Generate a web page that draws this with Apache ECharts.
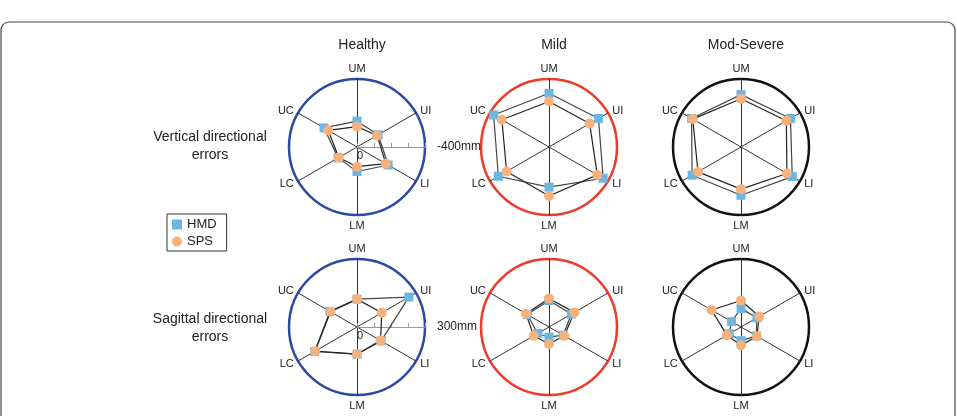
<!DOCTYPE html>
<html>
<head>
<meta charset="utf-8">
<script src="https://cdn.jsdelivr.net/npm/echarts@6/dist/echarts.min.js"></script>
<style>
  html, body { margin: 0; padding: 0; background: #fff; }
  #chartData { width: 957px; height: 416px; }
</style>
</head>
<body>
<div id="chartData"></div>
<script>
// axes go counterclockwise from the top in echarts radar
var categories = ["UM", "UC", "LC", "LM", "LI", "UI"];
var groups = ["Healthy", "Mild", "Mod-Severe"];
var rowLabels = ["Vertical directional\nerrors", "Sagittal directional\nerrors"];
var rowMax = [400, 300];
var scaleNames = ["-400mm", "300mm"];

// vertical errors (mm)
var vertHMD = [
  [152, 224, 128, 144, 212, 144],
  [316, 376, 344, 236, 368, 336],
  [308, 336, 332, 284, 348, 336]
];
var vertSPS = [
  [120, 196, 124, 116, 196, 136],
  [268, 320, 288, 288, 328, 276],
  [284, 328, 292, 248, 312, 308]
];
// sagittal errors (mm)
var sagHMD = [
  [123, 138, 216, 120, 123, 264],
  [117, 111, 57, 45, 72, 114],
  [81, 48, 60, 60, 78, 81]
];
var sagSPS = [
  [123, 135, 213, 120, 120, 126],
  [126, 117, 78, 75, 78, 129],
  [117, 150, 72, 81, 81, 93]
];

var ringColors = ["#2b4aa2", "#ee3b2a", "#111111"];
var hmdColor = "#6cb6e2";
var spsColor = "#f7b27b";
var font = "Liberation Sans";

var colX = [357, 549, 741];
var rowY = [147, 327];
var R = 68;

let myChart = echarts.init(document.getElementById("chartData"));

var radars = [], series = [], titles = [];
var rows = [[vertHMD, vertSPS], [sagHMD, sagSPS]];

rows.forEach(function (row, r) {
  groups.forEach(function (g, c) {
    radars.push({
      center: [colX[c], rowY[r]],
      radius: R,
      shape: "circle",
      startAngle: 90,
      splitNumber: 1,
      indicator: categories.map(function (n) { return { name: n, max: rowMax[r], min: 0 }; }),
      axisName: { color: "#222", fontSize: 11, fontFamily: font },
      nameGap: 5,
      splitArea: { show: false },
      splitLine: { lineStyle: { color: ringColors[c], width: 2.5 } },
      axisLine: { lineStyle: { color: "#333", width: 1 } }
    });
    series.push({
      type: "radar",
      radarIndex: radars.length - 1,
      z: 3,
      data: [
        {
          name: "HMD",
          value: row[0][c],
          symbol: "rect",
          symbolSize: 9,
          itemStyle: { color: hmdColor },
          lineStyle: { color: "#444", width: 1.2 }
        },
        {
          name: "SPS",
          value: row[1][c],
          symbol: "circle",
          symbolSize: 10,
          itemStyle: { color: spsColor },
          lineStyle: { color: "#222", width: 1.2 }
        }
      ]
    });
  });
});

// column headings and row labels
groups.forEach(function (g, c) {
  titles.push({
    text: g, left: colX[c], top: 33, textAlign: "center",
    textStyle: { fontSize: 14, fontWeight: "normal", color: "#222", fontFamily: font }
  });
});
rowLabels.forEach(function (t, r) {
  titles.push({
    text: t, left: 205, top: rowY[r] - 24 + r * 2, textAlign: "center",
    textStyle: { fontSize: 14, fontWeight: "normal", color: "#222", fontFamily: font, lineHeight: 18 }
  });
});

// scale bar on the healthy plots: a polar radius axis lying along 0 deg
var polar = [], angleAxis = [], radiusAxis = [];
rowY.forEach(function (y, r) {
  polar.push({ center: [colX[0], y], radius: R });
  angleAxis.push({ polarIndex: r, type: "value", startAngle: 0, show: false });
  radiusAxis.push({
    polarIndex: r,
    type: "value",
    min: 0,
    max: rowMax[r],
    interval: rowMax[r] / 4,
    z: 1,
    name: scaleNames[r],
    nameLocation: "end",
    nameGap: 12,
    nameTextStyle: { color: "#222", fontSize: 12, fontFamily: font, verticalAlign: "middle" },
    axisLine: { show: true, lineStyle: { color: "#999", width: 1 } },
    axisTick: { show: true, length: 4, lineStyle: { color: "#999" } },
    splitLine: { show: false },
    axisLabel: {
      color: "#222", fontSize: 11, fontFamily: font,
      margin: -3, verticalAlign: "top", align: "left",
      formatter: function (v) { return v === 0 ? "0" : ""; }
    }
  });
});

var option = {
  backgroundColor: "#fff",
  animation: false,
  title: titles,
  legend: {
    data: [{ name: "HMD", icon: "rect" }, { name: "SPS", icon: "circle" }],
    orient: "vertical",
    left: 167,
    top: 214,
    borderColor: "#333",
    borderWidth: 1,
    padding: [4, 10, 3, 5],
    itemGap: 4,
    itemWidth: 10,
    itemHeight: 10,
    textStyle: { fontSize: 13, color: "#222", fontFamily: font }
  },
  polar: polar,
  angleAxis: angleAxis,
  radiusAxis: radiusAxis,
  radar: radars,
  series: series,
  graphic: [
    {
      // rounded frame round the figure
      type: "rect",
      shape: { x: 1, y: 22, width: 954, height: 430, r: 8 },
      style: { fill: null, stroke: "#444", lineWidth: 1.2 },
      silent: true
    }
  ]
};

myChart.setOption(option, true);
</script>
</body>
</html>
